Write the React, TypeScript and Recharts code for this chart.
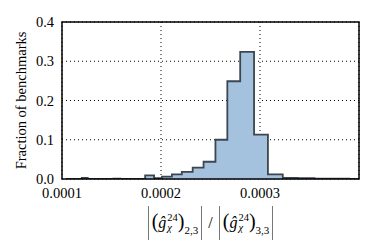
import { AreaChart, Area, XAxis, YAxis, CartesianGrid } from "recharts";

// histogram bin edges (log-spaced) and fraction per bin
const binEdges = [
  0.000104, 0.000109, 0.000114, 0.00012, 0.000126, 0.000132, 0.000138,
  0.000145, 0.000152, 0.000159, 0.000167, 0.000175, 0.000184, 0.000193,
  0.000201, 0.000211, 0.000221, 0.000232, 0.000243, 0.000255, 0.000267,
  0.00028, 0.000294, 0.000308, 0.000323, 0.000338, 0.000355, 0.000372,
  0.00039, 0.000409,
];
const fractions = [
  0, 0, 0, 0.003, 0, 0, 0, 0, 0.001, 0, 0, 0, 0.009, 0.002, 0.006, 0.012,
  0.018, 0.029, 0.044, 0.1, 0.249, 0.324, 0.113, 0.012, 0.003, 0.002, 0.001,
  0.001, 0,
];
const xTicks = [0.0001, 0.0002, 0.0003];
const yTicks = [0, 0.1, 0.2, 0.3, 0.4];

const data = binEdges.map((edge, i) => ({ x: edge, y: fractions[i] ?? 0 }));

const serif = "'Liberation Serif', 'DejaVu Serif', serif";
const tickStyle = { fill: "#000", fontSize: 14.5, fontFamily: serif };

// plot box inside the chart
const plot = { left: 54, top: 14, width: 297, height: 157 };

// tall delimiter bar for |...|
const VBar = () => (
  <span
    style={{
      display: "inline-block",
      width: 0,
      height: 34,
      borderLeft: "1px solid #777",
      verticalAlign: "middle",
      margin: "0 3px",
    }}
  />
);

const GTerm = ({ sub }: { sub: string }) => (
  <span style={{ display: "inline-block", whiteSpace: "nowrap" }}>
    <span style={{ fontSize: 20 }}>(</span>
    <i>ĝ</i>
    <span
      style={{
        display: "inline-block",
        fontSize: 10.5,
        lineHeight: "10px",
        marginLeft: 1,
        verticalAlign: "middle",
        position: "relative",
        top: -1,
        textAlign: "left",
      }}
    >
      24
      <br />
      <i>χ</i>
    </span>
    <span style={{ fontSize: 20 }}>)</span>
    <span style={{ fontSize: 11, position: "relative", top: 6 }}>{sub}</span>
  </span>
);

const axisCommon = {
  type: "number" as const,
  allowDataOverflow: true,
};

const App = () => {
  return (
    <div style={{ position: "relative", width: 360, height: 240 }}>
      <AreaChart
        width={360}
        height={240}
        data={data}
        margin={{ top: plot.top, right: 360 - plot.left - plot.width, left: 4, bottom: 39 }}
      >
        <XAxis
          {...axisCommon}
          xAxisId="x"
          dataKey="x"
          domain={[0.0001, 0.0004]}
          ticks={xTicks}
          tickFormatter={(v: number) => v.toFixed(4)}
          tickLine={false}
          tickSize={0}
          tickMargin={9}
          axisLine={false}
          tick={tickStyle}
          height={30}
        />
        <XAxis
          {...axisCommon}
          xAxisId="xb"
          dataKey="x"
          domain={[0.0001, 0.0004]}
          ticks={xTicks}
          mirror
          tick={false}
          tickSize={4}
          tickLine={{ stroke: "#000" }}
          axisLine={false}
        />
        <XAxis
          {...axisCommon}
          xAxisId="xt"
          dataKey="x"
          orientation="top"
          domain={[0.0001, 0.0004]}
          ticks={xTicks}
          mirror
          tick={false}
          tickSize={4}
          tickLine={{ stroke: "#000" }}
          axisLine={false}
        />
        <YAxis
          {...axisCommon}
          yAxisId="y"
          domain={[0, 0.4]}
          ticks={yTicks}
          tickFormatter={(v: number) => v.toFixed(1)}
          tickLine={false}
          tickSize={0}
          tickMargin={8}
          axisLine={false}
          tick={tickStyle}
          width={50}
        />
        <YAxis
          {...axisCommon}
          yAxisId="yl"
          domain={[0, 0.4]}
          ticks={yTicks}
          mirror
          tick={false}
          tickSize={4}
          tickLine={{ stroke: "#000" }}
          axisLine={false}
        />
        <YAxis
          {...axisCommon}
          yAxisId="yr"
          orientation="right"
          domain={[0, 0.4]}
          ticks={yTicks}
          mirror
          tick={false}
          tickSize={4}
          tickLine={{ stroke: "#000" }}
          axisLine={false}
        />
        <Area
          xAxisId="x"
          yAxisId="y"
          type="stepAfter"
          dataKey="y"
          fill="#a4c2de"
          fillOpacity={1}
          stroke="#3c4650"
          strokeWidth={1.8}
          isAnimationActive={false}
        />
        <CartesianGrid
          xAxisId="x"
          yAxisId="y"
          stroke="#000"
          strokeDasharray="1 3"
          fill="none"
        />
      </AreaChart>
      {/* axes frame */}
      <svg
        width={360}
        height={240}
        style={{ position: "absolute", left: 0, top: 0, pointerEvents: "none" }}
      >
        <rect
          x={plot.left}
          y={plot.top}
          width={plot.width}
          height={plot.height}
          fill="none"
          stroke="#000"
          strokeWidth={1.5}
        />
      </svg>
      <div
        style={{
          position: "absolute",
          left: 0,
          top: 92,
          width: 28,
          height: 0,
          display: "flex",
          justifyContent: "center",
          alignItems: "center",
        }}
      >
        <div
          style={{
            transform: "rotate(-90deg)",
            whiteSpace: "nowrap",
            fontFamily: serif,
            fontSize: 14.5,
            color: "#000",
          }}
        >
          Fraction of benchmarks
        </div>
      </div>
      <div
        style={{
          position: "absolute",
          left: plot.left,
          width: plot.width,
          top: 196,
          display: "flex",
          justifyContent: "center",
          alignItems: "center",
          fontFamily: serif,
          fontSize: 16,
          color: "#000",
          lineHeight: "34px",
        }}
      >
        <VBar />
        <GTerm sub="2,3" />
        <VBar />
        <span style={{ margin: "0 3px" }}>/</span>
        <VBar />
        <GTerm sub="3,3" />
        <VBar />
      </div>
    </div>
  );
};

export default App;
